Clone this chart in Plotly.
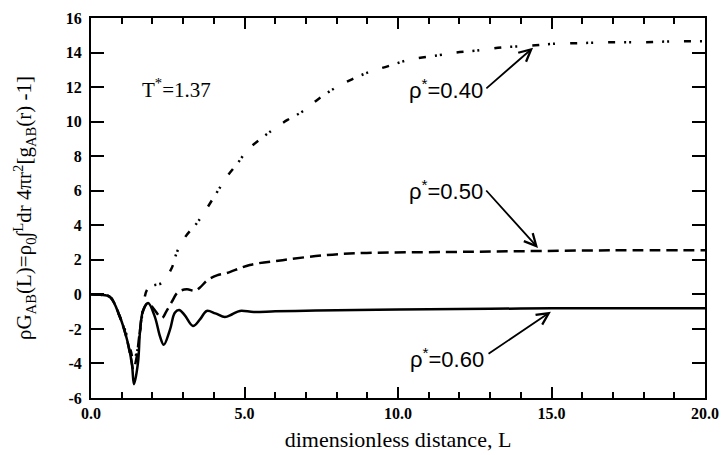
import plotly.graph_objects as go

# ---- data ----
L_060 = [0, 0.3, 0.62, 0.94, 1.17, 1.33, 1.4, 1.53, 1.6, 1.7, 1.86, 2.08, 2.25, 2.37, 2.57, 2.73, 2.87,
         3.05, 3.32, 3.55, 3.77, 4.05, 4.36, 4.6, 4.85, 5.3, 6, 7, 8, 10, 12, 14, 16, 18, 20]
y_060 = [0, -0.03, -0.15, -1.3, -2.6, -3.97, -5.2, -3.97, -2.06, -0.9, -0.5, -1.3, -2.45, -2.92, -2.06,
         -1.07, -0.9, -1.2, -1.83, -1.45, -0.96, -1.1, -1.31, -1.15, -0.96, -1.02, -0.98, -0.95, -0.92,
         -0.88, -0.85, -0.82, -0.8, -0.8, -0.8]

L_050 = [0, 0.3, 0.62, 0.94, 1.17, 1.3, 1.38, 1.48, 1.58, 1.7, 1.86, 2.05, 2.31, 2.45, 2.63, 2.83, 3.12,
         3.38, 3.55, 3.8, 4.1, 4.42, 5.17, 6.24, 7.67, 8.98, 11.6, 14, 17, 20]
y_050 = [0, -0.03, -0.15, -1.3, -2.6, -3.7, -4.35, -3.7, -2.3, -0.95, -0.5, -0.85, -1.37, -1.0, -0.44,
         0.12, 0.3, 0.2, 0.4, 0.83, 1.1, 1.23, 1.7, 1.98, 2.28, 2.4, 2.45, 2.5, 2.55, 2.55]

L_040 = [0, 0.3, 0.62, 0.94, 1.17, 1.3, 1.38, 1.5, 1.6, 1.7, 1.82, 2.0, 2.3, 2.63, 2.8, 3.06, 3.48, 4.1,
         4.42, 4.78, 5.1, 5.6, 5.98, 6.4, 6.9, 7.4, 7.95, 8.5, 9.1, 9.66, 10.4, 11.35, 11.9,
         12.5, 13.4, 14.34, 15, 16, 17, 18, 19, 20]
y_040 = [0, -0.03, -0.15, -1.3, -2.4, -3.3, -3.8, -3.3, -2.1, -0.8, 0.25, 0.5, 0.65, 1.53, 2.45, 3.3, 4.2,
         5.9, 6.8, 7.6, 8.36, 9.1, 9.6, 10.1, 10.6, 11.3, 11.95, 12.45, 12.9, 13.2, 13.6, 13.85, 14.0,
         14.1, 14.3, 14.4, 14.5, 14.55, 14.6, 14.6, 14.65, 14.65]

x_tickvals = [0, 5, 10, 15, 20]
x_ticktext = ["0.0", "5.0", "10.0", "15.0", "20.0"]
y_tickvals = [-6, -4, -2, 0, 2, 4, 6, 8, 10, 12, 14, 16]
y_ticktext = ["-6", "-4", "-2", "0", "2", "4", "6", "8", "10", "12", "14", "16"]

fig = go.Figure()
fig.add_trace(go.Scatter(x=L_040, y=y_040, mode="lines", line_shape="spline",
                         line=dict(color="black", width=2.5, dash="7px,9px,2px,3px,2px,15px"),
                         showlegend=False))
fig.add_trace(go.Scatter(x=L_050, y=y_050, mode="lines", line_shape="spline",
                         line=dict(color="black", width=2.5, dash="11px,6px"),
                         showlegend=False))
fig.add_trace(go.Scatter(x=L_060, y=y_060, mode="lines", line_shape="spline",
                         line=dict(color="black", width=2.5),
                         showlegend=False))

serif = "Liberation Serif"
sans = "Liberation Sans"

annots = []
annots.append(dict(x=2.77, y=11.9, text="T<sup>*</sup>=1.37", showarrow=False,
                   font=dict(family=serif, size=21, color="black")))
for (tx, ty, txt, ax, ay, hx, hy) in [
    (11.55, 11.9, "ρ<sup>*</sup>=0.40", 12.83, 11.85, 14.4, 14.28),
    (11.56, 6.05, "ρ<sup>*</sup>=0.50", 12.83, 6.1, 14.56, 2.69),
    (11.6, -3.67, "ρ<sup>*</sup>=0.60", 12.9, -3.5, 14.98, -1.0),
]:
    annots.append(dict(x=tx, y=ty, text=txt, showarrow=False,
                       font=dict(family=sans, size=22, color="black")))
    annots.append(dict(x=hx, y=hy, ax=ax, ay=ay, axref="x", ayref="y", text="",
                       showarrow=True, arrowhead=5, arrowsize=1.3, arrowwidth=1.8,
                       arrowcolor="black"))

fig.update_layout(
    width=722, height=455,
    margin=dict(l=91, r=17, t=18, b=57),
    paper_bgcolor="white", plot_bgcolor="white",
    annotations=annots,
    xaxis=dict(range=[0, 20], tickvals=x_tickvals, ticktext=x_ticktext, automargin=False,
               showgrid=False, zeroline=False, showline=True, linecolor="black", linewidth=2,
               mirror="ticks", ticks="inside", ticklen=11, tickwidth=2, tickcolor="black",
               minor=dict(dtick=1, ticks="inside", ticklen=6, tickwidth=1.5, tickcolor="black", showgrid=False),
               tickfont=dict(family=serif, size=16, color="black", weight="bold"),
               title=dict(text="dimensionless distance, L", standoff=10,
                          font=dict(family=serif, size=22, color="black"))),
    yaxis=dict(range=[-6, 16], tickvals=y_tickvals, ticktext=y_ticktext, automargin=False,
               showgrid=False, zeroline=False, showline=True, linecolor="black", linewidth=2,
               mirror="ticks", ticks="inside", ticklen=13, tickwidth=2, tickcolor="black",
               tickfont=dict(family=serif, size=16, color="black", weight="bold"),
               ticklabelstandoff=4,
               title=dict(text="ρG<sub>AB</sub>(L)=ρ<sub>0</sub>∫<sup>L</sup>dr 4πr<sup>2</sup>[g<sub>AB</sub>(r) -1]",
                          standoff=28, font=dict(family=serif, size=21, color="black"))),
)

fig.write_html("out.html")
